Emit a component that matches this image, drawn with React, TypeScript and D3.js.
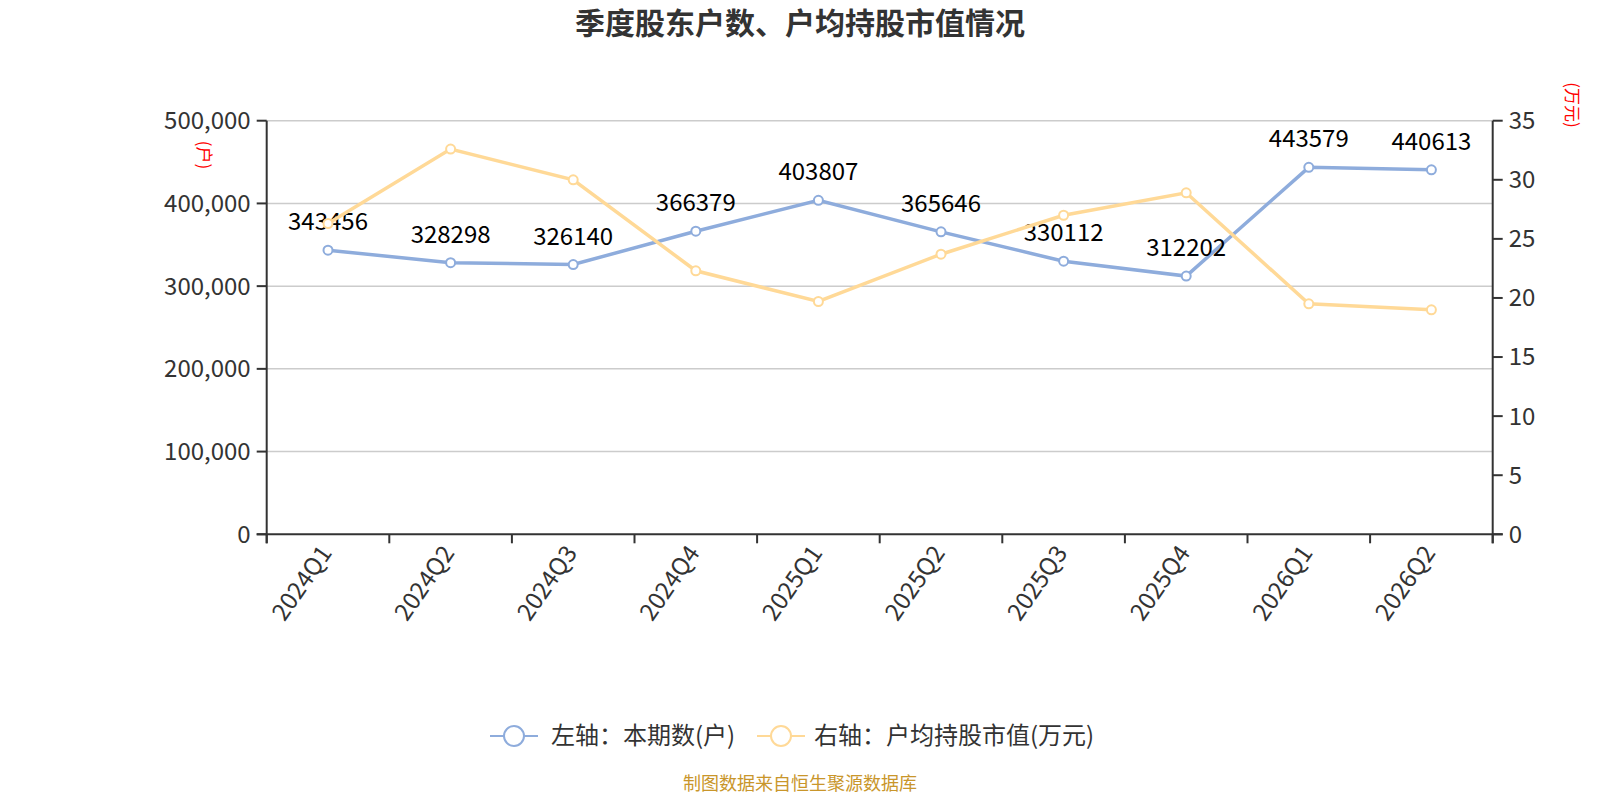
import * as d3 from "d3";

const quarters = ["2024Q1", "2024Q2", "2024Q3", "2024Q4", "2025Q1", "2025Q2", "2025Q3", "2025Q4", "2026Q1", "2026Q2"];
const holders = [343456, 328298, 326140, 366379, 403807, 365646, 330112, 312202, 443579, 440613];
const avgValue = [26.3, 32.6, 30.0, 22.3, 19.7, 23.7, 27.0, 28.9, 19.5, 19.0];
const leftTicks = [0, 100000, 200000, 300000, 400000, 500000];
const rightTicks = [0, 5, 10, 15, 20, 25, 30, 35];

const W = 1600;
const H = 800;
const FONT = "'Noto Sans CJK SC', 'Noto Sans', sans-serif";
const BLUE = "#8eacdc";
const ORANGE = "#ffd997";

export default function App() {
  const left = 266.7, right = 1492.7, top = 120.7, bottom = 534.3;

  const x = d3.scaleBand<string>().domain(quarters).range([left, right]);
  const yL = d3.scaleLinear().domain([0, 500000]).range([bottom, top]);
  const yR = d3.scaleLinear().domain([0, 35]).range([bottom, top]);
  const cx = (q: string) => (x(q) as number) + x.bandwidth() / 2;

  const lineL = d3.line<number>().x((_, i) => cx(quarters[i])).y(d => yL(d));
  const lineR = d3.line<number>().x((_, i) => cx(quarters[i])).y(d => yR(d));
  const fmt = d3.format(",");

  const boundaries = quarters.map(q => x(q) as number).concat([right]);

  return (
    <svg width={W} height={H} style={{ position: "absolute", left: 0, top: 0, background: "#fff" }} fontFamily={FONT}>
      <text x={800} y={34} textAnchor="middle" fontSize={30} fontWeight="bold" fill="#333">
        季度股东户数、户均持股市值情况
      </text>

      {/* grid */}
      {leftTicks.slice(1).map(t => (
        <line key={t} x1={left} x2={right} y1={yL(t)} y2={yL(t)} stroke="#ccc" strokeWidth={1.5} />
      ))}

      {/* left axis */}
      <line x1={left} x2={left} y1={top} y2={bottom + 9} stroke="#333" strokeWidth={2} />
      {leftTicks.map(t => (
        <g key={t}>
          <line x1={left - 10} x2={left} y1={yL(t)} y2={yL(t)} stroke="#333" strokeWidth={2} />
          <text x={left - 16} y={yL(t)} dy="0.35em" textAnchor="end" fontSize={24} fill="#333">{fmt(t)}</text>
        </g>
      ))}
      <text transform={`translate(204,155) rotate(90)`} textAnchor="middle" dy="0.35em" fontSize={17} fill="red">(户)</text>

      {/* right axis */}
      <line x1={right} x2={right} y1={top} y2={bottom + 9} stroke="#333" strokeWidth={2} />
      {rightTicks.map(t => (
        <g key={t}>
          <line x1={right} x2={right + 10} y1={yR(t)} y2={yR(t)} stroke="#333" strokeWidth={2} />
          <text x={right + 16} y={yR(t)} dy="0.35em" textAnchor="start" fontSize={24} fill="#333">{t}</text>
        </g>
      ))}
      <text transform={`translate(1572,105) rotate(90)`} textAnchor="middle" dy="0.35em" fontSize={17} fill="red">(万元)</text>

      {/* x axis */}
      <line x1={left - 10} x2={right + 10} y1={bottom} y2={bottom} stroke="#333" strokeWidth={2} />
      {boundaries.map((b, i) => (
        <line key={i} x1={b} x2={b} y1={bottom} y2={bottom + 9} stroke="#333" strokeWidth={2} />
      ))}
      {quarters.map(q => (
        <text key={q} transform={`translate(${cx(q) - 2},${bottom + 14}) rotate(-55)`} textAnchor="end" dy="0.35em" fontSize={24} fill="#333">
          {q}
        </text>
      ))}

      {/* left series */}
      <path d={lineL(holders) as string} fill="none" stroke={BLUE} strokeWidth={3.5} />
      {holders.map((v, i) => (
        <circle key={i} cx={cx(quarters[i])} cy={yL(v)} r={4.5} fill="#fff" stroke={BLUE} strokeWidth={2} />
      ))}
      {holders.map((v, i) => (
        <text key={i} x={cx(quarters[i])} y={yL(v) - 20} textAnchor="middle" fontSize={24} fill="#000">{v}</text>
      ))}

      {/* right series */}
      <path d={lineR(avgValue) as string} fill="none" stroke={ORANGE} strokeWidth={3.5} />
      {avgValue.map((v, i) => (
        <circle key={i} cx={cx(quarters[i])} cy={yR(v)} r={4.5} fill="#fff" stroke={ORANGE} strokeWidth={2} />
      ))}

      {/* legend */}
      <g>
        <line x1={490} x2={538} y1={736} y2={736} stroke={BLUE} strokeWidth={2} />
        <circle cx={514} cy={736} r={10} fill="#fff" stroke={BLUE} strokeWidth={2} />
        <text x={551} y={736} dy="0.35em" fontSize={24} fill="#333">左轴：本期数(户)</text>
        <line x1={757} x2={805} y1={736} y2={736} stroke={ORANGE} strokeWidth={2} />
        <circle cx={781} cy={736} r={10} fill="#fff" stroke={ORANGE} strokeWidth={2} />
        <text x={814} y={736} dy="0.35em" fontSize={24} fill="#333">右轴：户均持股市值(万元)</text>
      </g>

      <text x={800} y={790} textAnchor="middle" fontSize={18} fill="#c9962b">制图数据来自恒生聚源数据库</text>
    </svg>
  );
}
